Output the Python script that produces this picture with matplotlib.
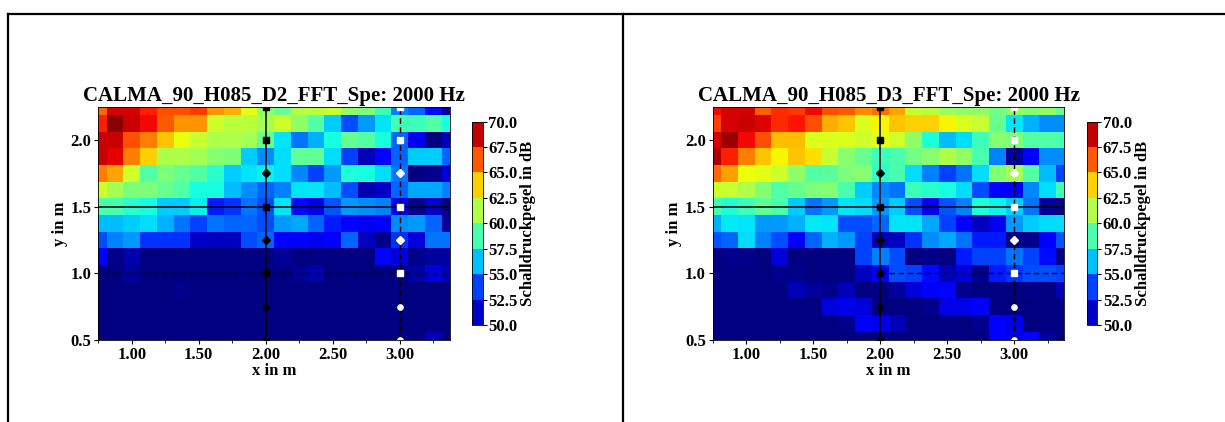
import numpy as np
import matplotlib
matplotlib.use('Agg')
import matplotlib.pyplot as plt
from matplotlib.colors import ListedColormap, BoundaryNorm
from matplotlib.cm import ScalarMappable
from matplotlib.lines import Line2D

plt.rcParams['font.family'] = ['Liberation Serif', 'DejaVu Serif']
plt.rcParams['font.weight'] = 'bold'

##grid of measurement cells (centres in m)
x_pos = [0.75, 0.875, 1.0, 1.125, 1.25, 1.375, 1.5, 1.625, 1.75, 1.875, 2.0,
         2.125, 2.25, 2.375, 2.5, 2.625, 2.75, 2.875, 3.0, 3.125, 3.25, 3.375]
y_pos = [2.25, 2.125, 2.0, 1.875, 1.75, 1.625, 1.5, 1.375, 1.25, 1.125, 1.0,
         0.875, 0.75, 0.625, 0.5]

##sound pressure level in dB, rows from top (2.25 m) to bottom (0.5 m)
spl_d2 = [
    [66, 68.5, 68.5, 67.5, 66.5, 66.5, 67, 65, 64.5, 62.5, 60.5, 59.5, 61.3, 61.5, 61.8, 60.5, 60, 58.5, 55, 54.5, 52.7, 50.5],
    [67.5, 69.8, 68.7, 68, 66.3, 65, 65, 62, 61.5, 61.5, 61, 62, 60.5, 59, 56.5, 54, 55.5, 57, 58.6, 58.5, 59, 57.5],
    [68.7, 68.7, 66.5, 65.5, 64, 62.7, 61.8, 61.2, 61.2, 61, 59.5, 57, 54.8, 56, 57.5, 59.5, 59, 57.5, 54.5, 52, 49, 51],
    [68.7, 68.2, 65.5, 63.8, 61.2, 61.2, 61, 60.3, 60, 56.5, 55.3, 56.8, 59.3, 59.3, 56.8, 53.8, 51, 52.5, 54.5, 56.5, 56.5, 54.5],
    [65.5, 64.7, 62, 59, 60, 59.5, 59, 58, 56.5, 57, 57.2, 56.8, 55.2, 53.8, 55.5, 57.8, 57.5, 56.8, 54.8, 49, 50.3, 51.5],
    [62, 61, 60, 60, 59.5, 59, 57.5, 57.5, 56.2, 55.3, 54.5, 55, 57, 57, 56.2, 54, 50.8, 51.3, 54.5, 55.8, 55.8, 55],
    [58.8, 58.8, 58, 57.5, 56.5, 56.5, 57.2, 53, 53.5, 54.8, 54, 57, 52.7, 51.8, 54.2, 55.5, 55.3, 55, 52, 50.3, 51.3, 49],
    [56.2, 56.2, 56.5, 56.8, 56, 54.8, 53.8, 54.8, 54.5, 54.5, 54, 55.5, 55.8, 54.5, 53, 52.2, 52, 52.2, 55.3, 55.5, 54.5, 50.5],
    [54, 55, 55.5, 53.5, 53.5, 53.5, 51.3, 51.1, 51.1, 54, 54.5, 52.2, 52.2, 52, 52.2, 54.5, 51.1, 50.2, 53.5, 51.6, 54.8, 54.8],
    [52.2, 50.2, 50.8, 49, 49, 49, 49, 49, 49, 49, 49, 50.4, 49, 49, 49, 49, 49, 52.6, 51.6, 50.3, 50.5, 50.6],
    [49, 49, 50.5, 49, 49, 49, 49, 49, 49, 49, 49, 49, 50.4, 50.8, 49, 49, 49, 49, 49, 50.7, 51.6, 51],
    [49, 49, 49, 49, 49, 50.3, 49, 49, 49, 49, 49, 49, 49, 49, 49, 49, 49, 49, 49, 49, 49, 49],
    [49, 49, 49, 49, 49, 49, 49, 49, 49, 49, 49, 49, 49, 49, 49, 49, 49, 49, 49, 49, 49, 49],
    [49, 49, 49, 49, 49, 49, 49, 49, 49, 49, 49, 49, 49, 49, 49, 49, 49, 49, 49, 49, 49, 49],
    [49, 49, 49, 49, 49, 49, 49, 49, 49, 49, 49, 49, 49, 49, 49, 49, 49, 49, 49, 49, 51, 49],
]

spl_d3 = [
    [68, 68.5, 68.5, 66.2, 67.3, 67, 68, 66.5, 66.3, 65.3, 65.8, 64.7, 61.8, 61.5, 60.8, 60.5, 60.5, 59.8, 60.5, 60.2, 60.5, 59.5],
    [66.8, 68.5, 68.7, 68.3, 67.3, 67.8, 66.5, 64.5, 64, 62.3, 63, 64, 63.8, 63.8, 63, 62.3, 61.8, 59.5, 57, 56, 55.3, 55.3],
    [68.5, 69.5, 68, 66.5, 64.2, 64.2, 62.3, 62.3, 62.3, 62, 62.5, 62, 60.5, 57.8, 56.2, 56.8, 58.5, 60.3, 60, 59, 59, 58.8],
    [69.2, 67.5, 65.5, 64, 63, 64, 63.5, 61.8, 60.3, 59.5, 58.5, 58.8, 59.8, 60.3, 61.2, 60.5, 58.8, 55, 50.5, 52.2, 55.3, 55.3],
    [66, 64.8, 62.8, 62.5, 62, 60.5, 59, 59.2, 60, 60.3, 58.2, 58.8, 56.8, 55, 53.8, 54.8, 56.8, 60.2, 61, 59, 56.2, 53.8],
    [62, 61.8, 61.3, 60.2, 59, 59.5, 60, 60.2, 58.8, 56.5, 55.2, 54.8, 58.5, 58, 57.5, 56.8, 54, 52.2, 52, 55.2, 56.8, 58.5],
    [58.6, 57.8, 58.5, 59.3, 58.8, 56.5, 54.8, 55.5, 57, 56.8, 55.5, 56.5, 54, 52, 54.2, 55, 57.8, 57.3, 56.5, 54.8, 50.5, 50.2],
    [56, 57.1, 57, 55.5, 55.5, 56, 57.1, 57, 54, 54, 54.5, 57, 57, 55.8, 53.8, 52.2, 51.1, 52, 55.5, 56.5, 56.8, 56.8],
    [54.2, 54.5, 56.8, 55, 54, 52.2, 54.5, 56, 55.5, 53.8, 51, 51.1, 53.5, 55.3, 55.8, 54.8, 53, 53, 50.2, 50.3, 52.2, 54.2],
    [49, 50.3, 50.2, 49, 51.6, 49, 49, 49, 49, 53.8, 55, 54, 49, 50.2, 49, 53, 53.8, 53.8, 54.8, 53.8, 52.7, 50.3],
    [49, 49, 49, 49, 50.3, 50.2, 49, 49, 49, 51.1, 52.2, 54, 53.8, 52.7, 51, 51.6, 50.3, 53, 53.5, 54, 54, 53.8],
    [49, 49, 49, 49, 49, 51, 50.5, 50.3, 51, 49, 49, 50.5, 51.6, 52.2, 52.5, 50.3, 49, 49, 49, 50.2, 49, 51],
    [49, 49, 49, 49, 49, 49, 49, 51.6, 51.8, 51.6, 49, 49, 49, 50.3, 51.8, 51.8, 52.2, 49, 49, 49, 49, 49],
    [49, 49, 49, 49, 49, 49, 49, 49, 50.3, 52.2, 51.8, 51, 49, 49, 49, 49, 50.3, 52.2, 51.8, 49, 49, 49],
    [49, 49, 49, 49, 49, 49, 49, 49, 49, 49, 49, 49, 49, 49, 49, 49, 49, 52.2, 51.8, 52.6, 50.5, 49],
]

titles = ['CALMA_90_H085_D2_FFT_Spe: 2000 Hz', 'CALMA_90_H085_D3_FFT_Spe: 2000 Hz']

##microphone positions along the two traverses
mic_y = [0.5, 0.75, 1.0, 1.25, 1.5, 1.75, 2.0, 2.25]
mic_marker = ['o', 'o', 's', 'D', 's', 'D', 's', 's']

levels = np.arange(50, 72.5, 2.5)

##set up the figure
fig = plt.figure()
fig.set_size_inches(12.25, 4.22)

##table-like frame around the two panels
fig.add_artist(Line2D([0.0065, 1.0], [0.9668, 0.9668], color='k', lw=1.6, transform=fig.transFigure))
fig.add_artist(Line2D([0.0065, 0.0065], [0.0, 0.9668], color='k', lw=1.6, transform=fig.transFigure))
fig.add_artist(Line2D([0.5086, 0.5086], [0.0, 0.9668], color='k', lw=1.6, transform=fig.transFigure))

##discrete colorbar colours (like contourf levels)
mids = (levels[:-1] + levels[1:]) / 2
bar_cmap = ListedColormap(plt.get_cmap('jet')((mids - 50) / 20))
bar_norm = BoundaryNorm(levels, bar_cmap.N)

for i, (spl, title) in enumerate(zip([spl_d2, spl_d3], titles)):
    off = i * 0.5016
    ax = fig.add_axes([0.0802 + off, 0.1943, 0.2871, 0.5529])
    cax = fig.add_axes([0.3856 + off, 0.2299, 0.0085, 0.4818])

    ax.pcolormesh(x_pos, y_pos, np.array(spl), cmap='jet', vmin=50, vmax=70, shading='nearest')

    ##reference lines
    ax.axvline(2.0, color='k', lw=1.1)
    ax.axvline(3.0, color='k', lw=1.0, ls=(0, (4, 2.5)))
    ax.axhline(1.5, color='k', lw=1.1)
    if i == 0:
        ax.axhline(1.0, color='k', lw=1.0, ls=(0, (4, 2.5)))
    else:
        ax.plot([2.0, 3.375], [1.0, 1.0], color='k', lw=1.0, ls=(0, (4, 2.5)))

    ##microphones
    for yy, mk in zip(mic_y, mic_marker):
        ms = 3.8 if mk == 'o' else (4.5 if mk == 'D' else 4.0)
        ax.plot(2.0, yy, marker=mk, color='k', ms=ms, ls='none')
        ax.plot(3.0, yy, marker=mk, color='white', ms=ms, ls='none')

    ax.set_xlim(0.75, 3.375)
    ax.set_ylim(0.5, 2.25)
    ax.set_xticks([1.0, 1.5, 2.0, 2.5, 3.0])
    ax.set_xticklabels(['%.2f' % v for v in [1.0, 1.5, 2.0, 2.5, 3.0]])
    ax.set_xticks(np.arange(0.75, 3.4, 0.25), minor=True)
    ax.set_yticks([0.5, 1.0, 1.5, 2.0])
    ax.set_yticklabels(['%.1f' % v for v in [0.5, 1.0, 1.5, 2.0]])
    ax.tick_params(axis='both', labelsize=12, length=3, pad=2)
    ax.tick_params(which='minor', length=2)
    ax.set_xlabel('x in m', fontsize=12, fontweight='bold', labelpad=0)
    ax.set_ylabel('y in m', fontsize=12, fontweight='bold', labelpad=2)
    ax.set_title(title, fontsize=15, fontweight='bold', pad=4)
    for sp in ax.spines.values():
        sp.set_linewidth(0.6)

    cb = fig.colorbar(ScalarMappable(norm=bar_norm, cmap=bar_cmap), cax=cax, ticks=levels)
    cb.ax.set_yticklabels(['%.1f' % v for v in levels])
    cb.ax.tick_params(labelsize=12, length=3, pad=1)
    cb.outline.set_linewidth(0.6)
    cb.set_label('Schalldruckpegel in dB', fontsize=12, fontweight='bold', labelpad=2)

fig.savefig('out.png', dpi=100)
